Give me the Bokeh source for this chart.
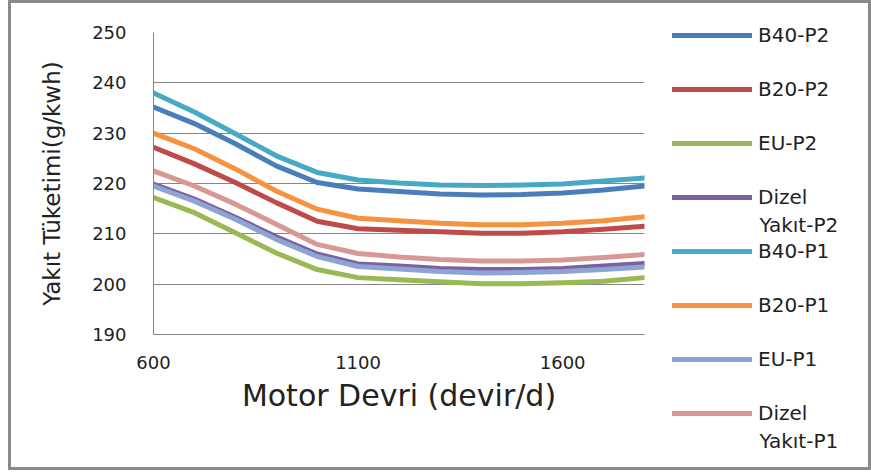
from bokeh.plotting import figure
from bokeh.models import Legend, LegendItem, FixedTicker, Range1d, Label
from bokeh.embed import file_html
from bokeh.resources import INLINE

# ---- data ----
rpm = [600, 700, 800, 900, 1000, 1100, 1200, 1300, 1400, 1500, 1600, 1700, 1800]

b40_p2 = [235.2, 231.9, 227.9, 223.5, 220.2, 218.9, 218.4, 217.9, 217.7, 217.8, 218.1, 218.7, 219.5]
b20_p2 = [227.2, 223.9, 220.2, 216.2, 212.5, 211.0, 210.7, 210.4, 210.1, 210.1, 210.4, 210.9, 211.5]
eu_p2 = [217.2, 214.2, 210.2, 206.2, 202.9, 201.3, 200.9, 200.5, 200.1, 200.1, 200.3, 200.6, 201.3]
dizel_p2 = [219.9, 216.9, 213.3, 209.4, 206.0, 204.0, 203.6, 203.1, 202.9, 202.9, 203.1, 203.6, 204.1]
b40_p1 = [238.0, 234.2, 229.9, 225.5, 222.2, 220.7, 220.1, 219.7, 219.6, 219.7, 219.9, 220.5, 221.1]
b20_p1 = [230.0, 226.9, 222.9, 218.5, 214.9, 213.1, 212.6, 212.1, 211.8, 211.8, 212.1, 212.6, 213.4]
eu_p1 = [219.5, 216.5, 212.9, 208.9, 205.5, 203.5, 203.0, 202.5, 202.2, 202.3, 202.5, 202.9, 203.4]
dizel_p1 = [222.5, 219.5, 215.9, 211.9, 207.9, 206.1, 205.4, 204.9, 204.6, 204.6, 204.8, 205.3, 205.9]

# legend entries; the two long names wrap onto a second line as in the original
series_first_line = ["B40-P2", "B20-P2", "EU-P2", "Dizel", "B40-P1", "B20-P1", "EU-P1", "Dizel"]
series_second_line = ["", "", "", "Yakıt-P2", "", "", "", "Yakıt-P1"]
series_values = [b40_p2, b20_p2, eu_p2, dizel_p2, b40_p1, b20_p1, eu_p1, dizel_p1]
series_colors = ["#4a7ebb", "#be4b48", "#98b954", "#7d60a0", "#46aac5", "#f69240", "#8da5d5", "#d89896"]

x_ticks = [600, 1100, 1600]
y_ticks = [190, 200, 210, 220, 230, 240, 250]
x_title = "Motor Devri (devir/d)"
y_title = "Yakıt Tüketimi(g/kwh)"

FONT = "DejaVu Sans"
GRID = "#868686"
FRAME = "3px solid #8a8a8a"

# ---- chart (left part of the framed box) ----
p = figure(width=652, height=470, output_backend="svg", toolbar_location=None,
           x_range=Range1d(600, 1800), y_range=Range1d(190, 250),
           min_border_left=142, min_border_right=19, min_border_top=29, min_border_bottom=139)
p.styles = {"border-left": FRAME, "border-top": FRAME, "border-bottom": FRAME, "margin-left": "8px"}
p.background_fill_color = "white"
p.border_fill_color = "white"
p.outline_line_color = None

p.xgrid.visible = False
p.ygrid.grid_line_color = GRID
p.ygrid.grid_line_width = 1

p.xaxis.ticker = FixedTicker(ticks=x_ticks)
p.yaxis.ticker = FixedTicker(ticks=y_ticks)
for ax in (p.xaxis, p.yaxis):
    ax.axis_line_color = GRID
    ax.axis_line_width = 1
    ax.major_tick_line_color = None
    ax.minor_tick_line_color = None
    ax.major_tick_out = 0
    ax.major_tick_in = 0
    ax.major_label_text_font = FONT
    ax.major_label_text_font_size = "18px"
    ax.major_label_text_color = "#222222"
    ax.axis_label_text_font = FONT
    ax.axis_label_text_font_style = "normal"
    ax.axis_label_text_color = "#222222"

p.xaxis.major_label_standoff = 21
p.yaxis.major_label_standoff = 27
p.xaxis.axis_label = x_title
p.xaxis.axis_label_text_font_size = "30px"
p.xaxis.axis_label_standoff = 6
p.yaxis.axis_label = y_title
p.yaxis.axis_label_text_font_size = "23px"
p.yaxis.axis_label_standoff = 24

for vals, col in zip(series_values, series_colors):
    p.line(rpm, vals, line_color=col, line_width=5, line_cap="round", line_join="round")

# ---- legend panel (right part of the framed box), placed beside the chart ----
q = figure(width=211, height=470, output_backend="svg", toolbar_location=None,
           x_range=Range1d(0, 1), y_range=Range1d(0, 1),
           x_axis_type=None, y_axis_type=None, min_border=0)
q.styles = {"border-top": FRAME, "border-right": FRAME, "border-bottom": FRAME,
            "position": "absolute", "left": "660px", "top": "0px"}
q.background_fill_color = "white"
q.border_fill_color = "white"
q.outline_line_color = None

items = []
for lab, vals, col in zip(series_first_line, series_values, series_colors):
    r = q.line(rpm, vals, line_color=col, line_width=5, line_cap="round", visible=False)
    items.append(LegendItem(label=lab, renderers=[r]))

legend = Legend(items=items, location="top_left", orientation="vertical",
                glyph_width=80, glyph_height=40, label_height=40, spacing=14,
                padding=0, margin=12, label_standoff=6,
                border_line_color=None, background_fill_alpha=0, inactive_fill_alpha=0,
                label_text_font=FONT, label_text_font_size="20px",
                label_text_color="#222222")
q.add_layout(legend)

# second text lines of the wrapped legend entries (canvas pixels of the legend panel)
first_center = 32
pitch = 54
for i, extra in enumerate(series_second_line):
    if extra:
        q.add_layout(Label(x=99, y=first_center + i * pitch + 24, x_units="canvas", y_units="canvas",
                           text=extra, text_font=FONT, text_font_size="20px",
                           text_color="#222222", text_baseline="middle", text_align="left"))

open("out.html", "w").write(file_html([p, q], INLINE))
